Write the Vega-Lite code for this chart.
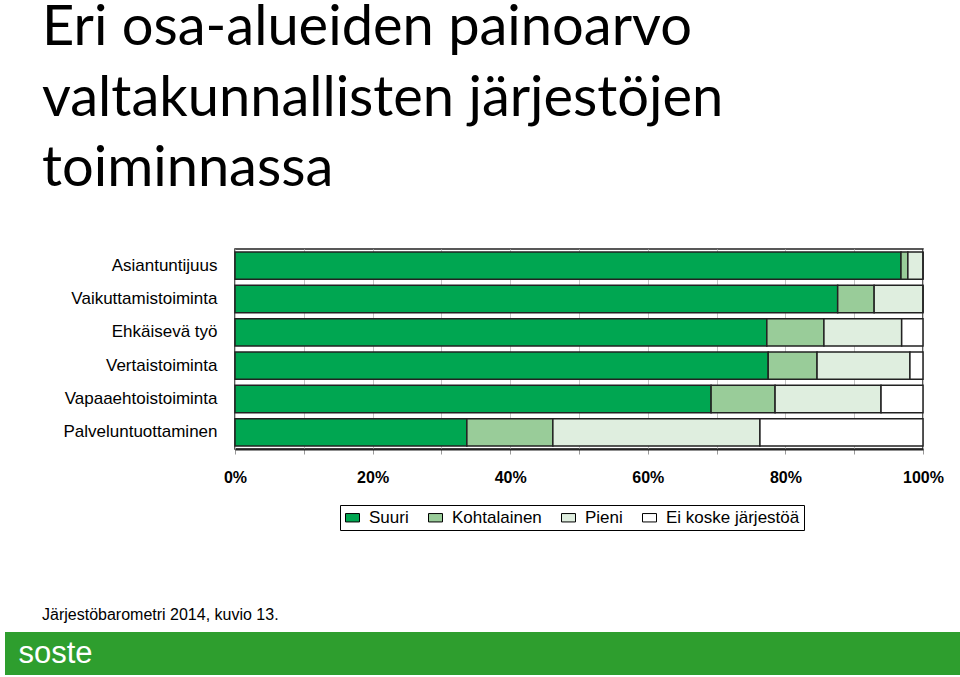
{
  "$schema": "https://vega.github.io/schema/vega-lite/v6.json",
  "padding": {"left": 5, "top": 0, "right": 0, "bottom": 0},
  "autosize": {"type": "pad"},
  "background": "white",
  "title": {
    "text": ["Eri osa-alueiden painoarvo", "valtakunnallisten järjestöjen", "toiminnassa"],
    "anchor": "start",
    "dx": 37,
    "font": "Lato",
    "fontSize": 56,
    "fontWeight": "normal",
    "lineHeight": 70.5,
    "color": "#000",
    "offset": 50
  },
  "spacing": 121,
  "config": {"view": {"stroke": null}},
  "vconcat": [
    {
      "spacing": 56,
      "hconcat": [
        {
          "width": 1,
          "height": 200,
          "data": {"values": [{"spacer": ""}]},
          "mark": {"type": "text", "opacity": 0},
          "encoding": {"text": {"field": "spacer"}}
        },
        {
          "width": 688,
          "height": 200,
          "view": {"stroke": "#222", "strokeWidth": 1.5},
          "data": {
            "values": [
              {"area": "Asiantuntijuus", "level": "Suuri", "ord": 1, "value": 96.8},
              {"area": "Asiantuntijuus", "level": "Kohtalainen", "ord": 2, "value": 1.0},
              {"area": "Asiantuntijuus", "level": "Pieni", "ord": 3, "value": 2.2},
              {"area": "Asiantuntijuus", "level": "Ei koske järjestöä", "ord": 4, "value": 0},
              {"area": "Vaikuttamistoiminta", "level": "Suuri", "ord": 1, "value": 87.6},
              {"area": "Vaikuttamistoiminta", "level": "Kohtalainen", "ord": 2, "value": 5.3},
              {"area": "Vaikuttamistoiminta", "level": "Pieni", "ord": 3, "value": 7.1},
              {"area": "Vaikuttamistoiminta", "level": "Ei koske järjestöä", "ord": 4, "value": 0},
              {"area": "Ehkäisevä työ", "level": "Suuri", "ord": 1, "value": 77.3},
              {"area": "Ehkäisevä työ", "level": "Kohtalainen", "ord": 2, "value": 8.3},
              {"area": "Ehkäisevä työ", "level": "Pieni", "ord": 3, "value": 11.3},
              {"area": "Ehkäisevä työ", "level": "Ei koske järjestöä", "ord": 4, "value": 3.1},
              {"area": "Vertaistoiminta", "level": "Suuri", "ord": 1, "value": 77.5},
              {"area": "Vertaistoiminta", "level": "Kohtalainen", "ord": 2, "value": 7.1},
              {"area": "Vertaistoiminta", "level": "Pieni", "ord": 3, "value": 13.5},
              {"area": "Vertaistoiminta", "level": "Ei koske järjestöä", "ord": 4, "value": 1.9},
              {"area": "Vapaaehtoistoiminta", "level": "Suuri", "ord": 1, "value": 69.2},
              {"area": "Vapaaehtoistoiminta", "level": "Kohtalainen", "ord": 2, "value": 9.3},
              {"area": "Vapaaehtoistoiminta", "level": "Pieni", "ord": 3, "value": 15.4},
              {"area": "Vapaaehtoistoiminta", "level": "Ei koske järjestöä", "ord": 4, "value": 6.1},
              {"area": "Palveluntuottaminen", "level": "Suuri", "ord": 1, "value": 33.7},
              {"area": "Palveluntuottaminen", "level": "Kohtalainen", "ord": 2, "value": 12.5},
              {"area": "Palveluntuottaminen", "level": "Pieni", "ord": 3, "value": 30.1},
              {"area": "Palveluntuottaminen", "level": "Ei koske järjestöä", "ord": 4, "value": 23.7}
            ]
          },
          "mark": {"type": "bar", "stroke": "#222", "strokeWidth": 1.5},
          "encoding": {
            "y": {
              "field": "area",
              "type": "nominal",
              "sort": ["Asiantuntijuus", "Vaikuttamistoiminta", "Ehkäisevä työ", "Vertaistoiminta", "Vapaaehtoistoiminta", "Palveluntuottaminen"],
              "scale": {"paddingInner": 0.18, "paddingOuter": 0.09},
              "axis": {
                "title": null,
                "ticks": false,
                "domain": false,
                "labelFont": "Liberation Sans",
                "labelFontSize": 17,
                "labelColor": "#000",
                "labelPadding": 18,
                "labelLimit": 300
              }
            },
            "x": {
              "field": "value",
              "type": "quantitative",
              "stack": "zero",
              "scale": {"domain": [0, 100], "nice": false},
              "axis": {
                "title": null,
                "values": [0, 10, 20, 30, 40, 50, 60, 70, 80, 90, 100],
                "labelExpr": "datum.value % 20 === 0 ? datum.value + '%' : ''",
                "labelFont": "Liberation Sans",
                "labelFontSize": 16,
                "labelFontWeight": "bold",
                "labelColor": "#000",
                "labelFlush": false,
                "labelOverlap": false,
                "tickColor": "#999",
                "tickSize": 5,
                "labelPadding": 15,
                "domainColor": "#222",
                "domainWidth": 2,
                "grid": true,
                "gridColor": "#c4c4c4",
                "gridWidth": 1
              }
            },
            "color": {
              "field": "level",
              "type": "nominal",
              "scale": {
                "domain": ["Suuri", "Kohtalainen", "Pieni", "Ei koske järjestöä"],
                "range": ["#00a651", "#99cc99", "#dfeedf", "#ffffff"]
              },
              "legend": {
                "orient": "none",
                "legendX": 335,
                "legendY": 256,
                "direction": "horizontal",
                "title": null,
                "strokeColor": "#000",
                "padding": 4,
                "symbolType": "M-1,-0.6H1V0.6H-1Z",
                "symbolSize": 196,
                "symbolStrokeColor": "#000",
                "symbolStrokeWidth": 1,
                "symbolOpacity": 1,
                "labelFont": "Liberation Sans",
                "labelFontSize": 17,
                "labelColor": "#000",
                "columnPadding": 17,
                "labelOffset": 8
              }
            },
            "order": {"field": "ord", "type": "quantitative"}
          }
        }
      ]
    },
    {
      "width": 955,
      "height": 43,
      "view": {"fill": "#2e9e2e", "stroke": null},
      "title": {
        "text": "Järjestöbarometri 2014, kuvio 13.",
        "anchor": "start",
        "dx": 37,
        "font": "Liberation Sans",
        "fontSize": 16,
        "fontWeight": "normal",
        "color": "#000",
        "offset": 9
      },
      "data": {"values": [{"brand": "soste"}]},
      "mark": {"type": "text", "align": "left", "baseline": "middle", "dx": -464, "color": "white", "font": "Liberation Sans", "fontSize": 31},
      "encoding": {"text": {"field": "brand"}}
    }
  ]
}
